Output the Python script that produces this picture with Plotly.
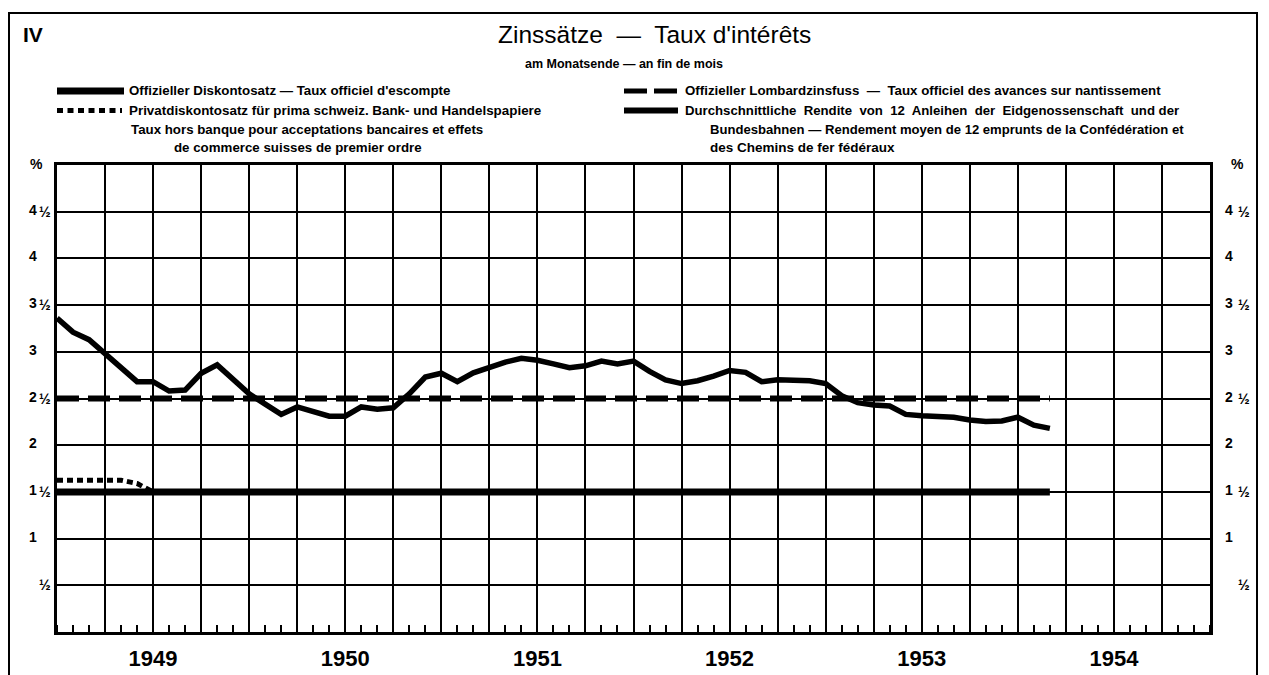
import plotly.graph_objects as go

# ---------------- data (month index: 0 = end of Dec 1948 / start of 1949) ----------------
yield_months = list(range(0, 63))
yield_values = [3.36, 3.21, 3.13, 2.98, 2.83, 2.68, 2.68, 2.58, 2.59, 2.77,
                2.86, 2.70, 2.55, 2.44, 2.33, 2.41, 2.36, 2.31, 2.31, 2.41,
                2.385, 2.40, 2.55, 2.73, 2.77, 2.68, 2.775, 2.84, 2.89, 2.93,
                2.91, 2.87, 2.83, 2.85, 2.90, 2.87, 2.90, 2.79, 2.70, 2.66,
                2.69, 2.74, 2.80, 2.78, 2.68, 2.70, 2.70, 2.69, 2.66, 2.53,
                2.455, 2.43, 2.42, 2.33, 2.315, 2.31, 2.30, 2.27, 2.255, 2.26,
                2.30, 2.215, 2.18]

discount_months = [0, 62]
discount_values = [1.5, 1.5]

lombard_months = [0, 62]
lombard_values = [2.5, 2.5]

private_months = [0, 1, 2, 3, 4, 5, 6]
private_values = [1.625, 1.625, 1.625, 1.625, 1.625, 1.59, 1.5]

years = ["1949", "1950", "1951", "1952", "1953", "1954"]
y_tickvals = [0.5, 1, 1.5, 2, 2.5, 3, 3.5, 4, 4.5, 5]
y_ticktext = ["½", "1", "1 ½", "2", "2 ½", "3", "3 ½", "4", "4 ½", "%"]

# ---------------- layout geometry ----------------
# page offset: the html body adds an 8px margin, so page = figure + 8
W, H = 1269, 675
OFF = 8
L, R, T, B = 57, 1210, 165, 644          # plot area in page pixels
NARROW = "Liberation Sans Narrow, Arial Narrow, Liberation Sans, sans-serif"
SANS = "Liberation Sans, Arial, Helvetica, sans-serif"


def px(x):
    return (x - L) / (R - L)


def py(y):
    return (B - y) / (B - T)


x_tickvals = list(range(0, 73, 3))
x_ticktext = [years[v // 12] if v % 12 == 6 else "" for v in x_tickvals]

fig = go.Figure()

fig.add_trace(go.Scatter(x=lombard_months, y=lombard_values, mode="lines",
                         line=dict(color="black", width=6, dash="22px,9px"),
                         hoverinfo="skip"))
fig.add_trace(go.Scatter(x=private_months, y=private_values, mode="lines",
                         line=dict(color="black", width=5, dash="6px,4px"),
                         hoverinfo="skip"))
fig.add_trace(go.Scatter(x=discount_months, y=discount_values, mode="lines",
                         line=dict(color="black", width=7),
                         hoverinfo="skip"))
fig.add_trace(go.Scatter(x=yield_months, y=yield_values, mode="lines",
                         line=dict(color="black", width=5.5),
                         hoverinfo="skip"))

shapes = []
# outer frame
shapes.append(dict(type="rect", xref="paper", yref="paper",
                   x0=px(9), x1=px(1257), y0=py(700), y1=py(9),
                   line=dict(color="black", width=2)))
# legend samples
shapes.append(dict(type="line", xref="paper", yref="paper",
                   x0=px(57), x1=px(124), y0=py(89), y1=py(89),
                   line=dict(color="black", width=7)))
shapes.append(dict(type="line", xref="paper", yref="paper",
                   x0=px(57), x1=px(122), y0=py(109), y1=py(109),
                   line=dict(color="black", width=5, dash="6px,4.5px")))
shapes.append(dict(type="line", xref="paper", yref="paper",
                   x0=px(624), x1=px(678), y0=py(89), y1=py(89),
                   line=dict(color="black", width=5, dash="23px,7px")))
shapes.append(dict(type="line", xref="paper", yref="paper",
                   x0=px(624), x1=px(678), y0=py(109), y1=py(109),
                   line=dict(color="black", width=6)))

ann = []


def text(x, y, s, size, xanchor="left", bold=False, family=NARROW):
    ann.append(dict(x=px(x), y=py(y), xref="paper", yref="paper",
                    text=(f"<b>{s}</b>" if bold else s),
                    showarrow=False, xanchor=xanchor, yanchor="middle",
                    font=dict(family=family, size=size, color="black")))


text(21, 31.5, "IV", 21, bold=True, family=SANS)
text(654, 31, "Zinssätze  —  Taux d'intérêts", 24.5, xanchor="center")
text(624, 61, "am Monatsende — an fin de mois", 12.5, xanchor="center", bold=True)
text(127, 89, "Offizieller Diskontosatz — Taux officiel d'escompte", 13.3, bold=True)
text(127, 109, "Privatdiskontosatz für prima schweiz. Bank- und Handelspapiere", 13.4, bold=True)
text(307, 129, "Taux hors banque pour acceptations bancaires et effets", 13.3, xanchor="center", bold=True)
text(298, 147.5, "de commerce suisses de premier ordre", 13.3, xanchor="center", bold=True)
text(683, 89, "Offizieller Lombardzinsfuss  —  Taux officiel des avances sur nantissement", 13.3, bold=True)
text(683, 109, "Durchschnittliche  Rendite  von  12  Anleihen  der  Eidgenossenschaft  und der", 13.2, bold=True)
text(708, 129, "Bundesbahnen — Rendement moyen de 12 emprunts de la Confédération et", 13.1, bold=True)
text(708, 147.5, "des Chemins de fer fédéraux", 13.5, bold=True)

# y labels on both sides: integer column and fraction column
for v, t in zip(y_tickvals, y_ticktext):
    if t == "%":
        for xc in (36.5, 1237):
            ann.append(dict(x=px(xc), y=v, xref="paper", yref="y", text="<b>%</b>",
                            showarrow=False, xanchor="center", yanchor="middle", yshift=1,
                            font=dict(family=NARROW, size=14, color="black")))
        continue
    parts = t.split(" ")
    for p in parts:
        is_frac = p == "½"
        for xl in ((37, 1236) if is_frac else (27, 1223)):
            ann.append(dict(x=px(xl), y=v, xref="paper", yref="y", text=f"<b>{p}</b>",
                            showarrow=False, xanchor="left", yanchor="middle",
                            yshift=(0 if is_frac else 2),
                            font=dict(family=NARROW, size=14, color="black")))

fig.update_layout(
    width=W, height=H,
    margin=dict(l=L - OFF, r=W - (R - OFF), t=T - OFF, b=H - (B - OFF), pad=0),
    paper_bgcolor="white", plot_bgcolor="white",
    showlegend=False,
    shapes=shapes, annotations=ann,
    xaxis=dict(range=[0, 72], tickmode="array", tickvals=x_tickvals, ticktext=x_ticktext,
               showgrid=True, gridcolor="black", gridwidth=1.8, ticks="",
               showline=True, linecolor="black", linewidth=3, mirror=True,
               zeroline=False, ticklabelstandoff=5,
               tickfont=dict(family=SANS, size=22, color="black", weight="bold"),
               minor=dict(tickmode="linear", tick0=0, dtick=1, ticks="inside", ticklen=7,
                          tickwidth=1.5, tickcolor="black", showgrid=False)),
    yaxis=dict(range=[0, 5], tickmode="array", tickvals=y_tickvals,
               showticklabels=False,
               showgrid=True, gridcolor="black", gridwidth=1.8, ticks="",
               showline=True, linecolor="black", linewidth=3, mirror=True,
               zeroline=False),
)

fig.write_html("out.html")
